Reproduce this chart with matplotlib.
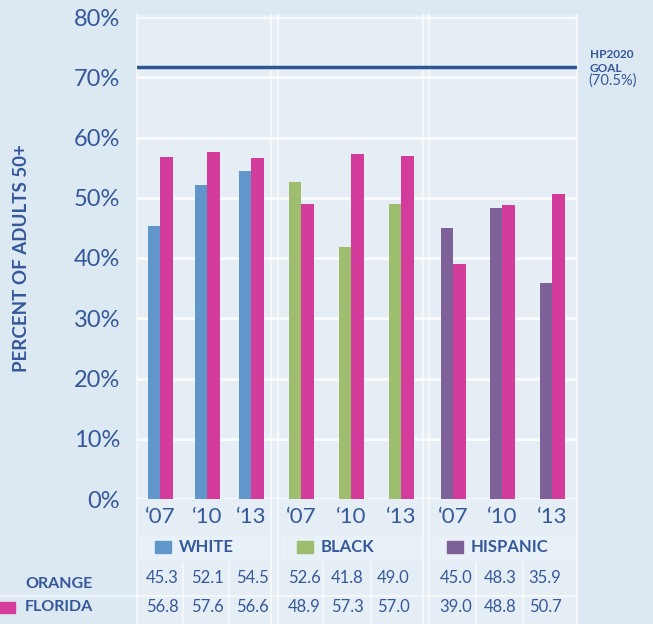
import matplotlib
matplotlib.use("Agg")
import matplotlib.pyplot as plt
from matplotlib.patches import Rectangle
from matplotlib.lines import Line2D

plt.rcParams['font.family'] = ['Lato', 'DejaVu Sans']

## Donnees
groupes = ["WHITE", "BLACK", "HISPANIC"]
annees = ["\u201807", "\u201810", "\u201813"]
orange = [45.3, 52.1, 54.5, 52.6, 41.8, 49.0, 45.0, 48.3, 35.9]
florida = [56.8, 57.6, 56.6, 48.9, 57.3, 57.0, 39.0, 48.8, 50.7]
objectif = 71.7  # position de la ligne sur l'image
objectif_txt = "(70.5%)"

## Style
W, H = 653, 624
c_fond = "#dde9f2"
c_panneau = "#e6eef5"
c_case = "#e9f1f8"
c_texte = "#35589a"
c_ligne = "#2f5596"
c_groupes = ["#6096c9", "#9fbd6e", "#7f6199"]
c_florida = "#d43c9b"

# positions des barres en pixels (centre de chaque paire)
pos = [160, 207, 251, 301, 351, 401, 453, 502, 552]
larg = 12.5
pos_val = [162, 207, 252, 304, 347, 393, 456, 500, 545]
sep_groupes = [271, 278, 423, 429]
sep_cases = [183, 229, 323, 371, 476, 523]
cases = [(139, 268), (281, 422), (431, 575)]


def fx(x):
    return x / W


def fy(y):
    return 1 - y / H


fig = plt.figure(figsize=(W / 100, H / 100), dpi=100, facecolor=c_fond)

# panneau clair derriere le graphe et le tableau
fig.patches.append(Rectangle((fx(137), 0), fx(577) - fx(137), fy(15),
                             transform=fig.transFigure, color=c_panneau, zorder=-2))

ax = fig.add_axes([fx(137), fy(499), fx(577) - fx(137), fy(17) - fy(499)])
ax.set_zorder(3)
ax.set_facecolor("none")
ax.set_xlim(137, 577)
ax.set_ylim(0, 80)
for s in ax.spines.values():
    s.set_visible(False)

ax.set_yticks(range(0, 81, 10))
ax.set_yticklabels([str(v) + "%" for v in range(0, 81, 10)], fontsize=17, color=c_texte)
ax.tick_params(axis='y', length=0, pad=12)
ax.yaxis.grid(True, color="white", linewidth=2.2, alpha=0.75)
ax.set_axisbelow(True)

ax.set_xticks(pos)
ax.set_xticklabels(annees * 3, fontsize=16, color=c_texte)
ax.tick_params(axis='x', length=0, pad=6)

couleurs_orange = [c for c in c_groupes for _ in range(3)]
ax.bar([p - larg / 2 for p in pos], orange, width=larg, color=couleurs_orange, zorder=3)
ax.bar([p + larg / 2 for p in pos], florida, width=larg, color=c_florida, zorder=3)

ax.axhline(objectif, color=c_ligne, linewidth=2.5, zorder=4)

ax.set_ylabel("PERCENT OF ADULTS 50+", fontsize=13.5, color=c_texte, fontweight='bold',
              labelpad=0)
ax.yaxis.set_label_coords(-0.243, 0.5)

# lignes verticales blanches (bords et separations de groupes)
for x in [137, 577] + sep_groupes:
    fig.lines.append(Line2D([fx(x), fx(x)], [0, fy(15)], transform=fig.transFigure,
                            color="white", linewidth=1.6, alpha=0.6, zorder=1))

# objectif HP2020
fig.text(fx(590), fy(54), "HP2020", fontsize=8.5, fontweight='bold', color=c_texte, va='center')
fig.text(fx(590), fy(68), "GOAL", fontsize=8.5, fontweight='bold', color=c_texte, va='center')
fig.text(fx(588), fy(81), objectif_txt, fontsize=10.5, color=c_texte, va='center')

# legende des groupes
for (x0, x1), nom, c in zip(cases, groupes, c_groupes):
    fig.patches.append(Rectangle((fx(x0), fy(559)), fx(x1) - fx(x0), fy(535) - fy(559),
                                 transform=fig.transFigure, color=c_case, zorder=-1))
    fig.patches.append(Rectangle((fx(x0 + 16), fy(553)), fx(16), fy(541) - fy(553),
                                 transform=fig.transFigure, color=c, zorder=2))
    fig.text(fx(x0 + 40), fy(547), nom, fontsize=12, fontweight='bold', color=c_texte,
             va='center', ha='left')

# tableau des valeurs
for x in sep_cases:
    fig.lines.append(Line2D([fx(x), fx(x)], [0, fy(563)], transform=fig.transFigure,
                            color="white", linewidth=1.4, alpha=0.6, zorder=1))
fig.lines.append(Line2D([0, fx(577)], [fy(596), fy(596)], transform=fig.transFigure,
                        color="white", linewidth=1.4, alpha=0.6, zorder=1))

fig.text(fx(25), fy(584), "ORANGE", fontsize=11.5, fontweight='bold', color=c_texte, va='center')
fig.text(fx(25), fy(607), "FLORIDA", fontsize=11.5, fontweight='bold', color=c_texte, va='center')
fig.patches.append(Rectangle((0, fy(613)), fx(15), fy(602) - fy(613),
                             transform=fig.transFigure, color=c_florida, zorder=2))

for x, o, f in zip(pos_val, orange, florida):
    fig.text(fx(x), fy(578), "%.1f" % o, fontsize=12, color=c_texte, ha='center', va='center')
    fig.text(fx(x), fy(607), "%.1f" % f, fontsize=12, color=c_texte, ha='center', va='center')

fig.savefig("out.png", dpi=100, facecolor=c_fond)
